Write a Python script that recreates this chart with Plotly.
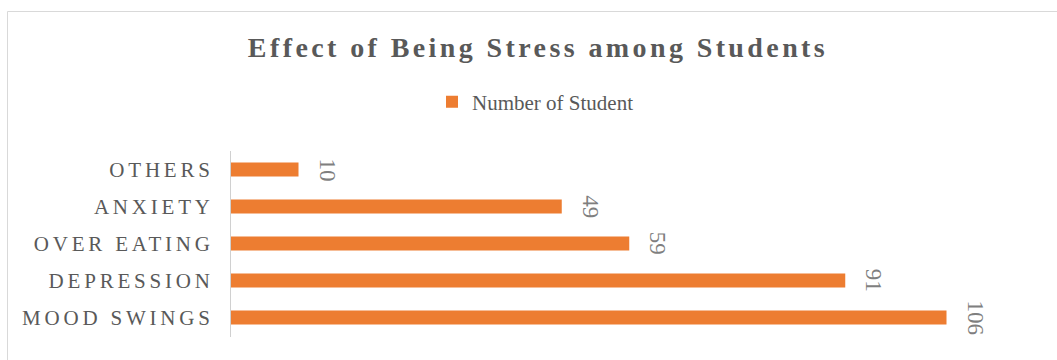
import plotly.graph_objects as go

categories = ["MOOD SWINGS", "DEPRESSION", "OVER EATING", "ANXIETY", "OTHERS"]
values = [106, 91, 59, 49, 10]
series_name = "Number of Student"
title_text = "Effect of Being Stress among Students"

W, H = 1057, 360
L, R, T, B = 231, 1040, 151, 337
SCALE = 6.75  # px per unit
xmax = (R - L) / SCALE

fig = go.Figure()
fig.add_trace(go.Bar(
    y=categories, x=values, orientation="h", name=series_name,
    marker=dict(color="#ED7D31", line=dict(width=0)),
    showlegend=True,
))

for c, v in zip(categories, values):
    fig.add_annotation(x=v, y=c, xref="x", yref="y", text=str(v), showarrow=False,
                       textangle=90, xanchor="center", yanchor="middle", xshift=28.5,
                       font=dict(family="Liberation Serif", size=23, color="#7f7f7f"))

def px2paper_x(px):
    return (px - L) / (R - L)

def px2paper_y(py):
    return (B - py) / (B - T)

# chart border
fig.add_shape(type="rect", xref="paper", yref="paper",
              x0=px2paper_x(7.5), x1=px2paper_x(1075), y0=px2paper_y(375), y1=px2paper_y(11.5),
              line=dict(color="#d9d9d9", width=1), fillcolor="rgba(0,0,0,0)", layer="below")

fig.update_layout(
    width=W, height=H,
    margin=dict(l=L, r=W - R, t=T, b=H - B, pad=0),
    paper_bgcolor="white", plot_bgcolor="white",
    bargap=0.62,
    title=dict(text=title_text, x=538 / W, xanchor="center", xref="container",
               y=1 - 47 / H, yanchor="middle", yref="container",
               font=dict(family="Liberation Serif", size=28, color="#595959", weight="bold")),
    legend=dict(orientation="h", x=px2paper_x(432), xanchor="left",
                y=px2paper_y(102), yanchor="middle",
                font=dict(family="Liberation Serif", size=21, color="#595959"),
                bgcolor="rgba(0,0,0,0)"),
    xaxis=dict(range=[0, xmax], visible=False, fixedrange=True),
    yaxis=dict(categoryorder="array", categoryarray=categories,
               showline=True, linecolor="#d0d0d0", linewidth=1,
               showgrid=False, zeroline=False, ticks="", ticklabelstandoff=12,
               tickfont=dict(family="Liberation Serif", size=21, color="#595959"),
               fixedrange=True),
    showlegend=True,
)

post = """
var gd = document.getElementById('{plot_id}');
function sp(){
  gd.querySelectorAll('.ytick text').forEach(function(t){t.style.letterSpacing='3.8px';});
  gd.querySelectorAll('.gtitle').forEach(function(t){t.style.letterSpacing='3.4px';});
}
sp();
"""

fig.write_html("out.html", post_script=post, config={"displayModeBar": False})
